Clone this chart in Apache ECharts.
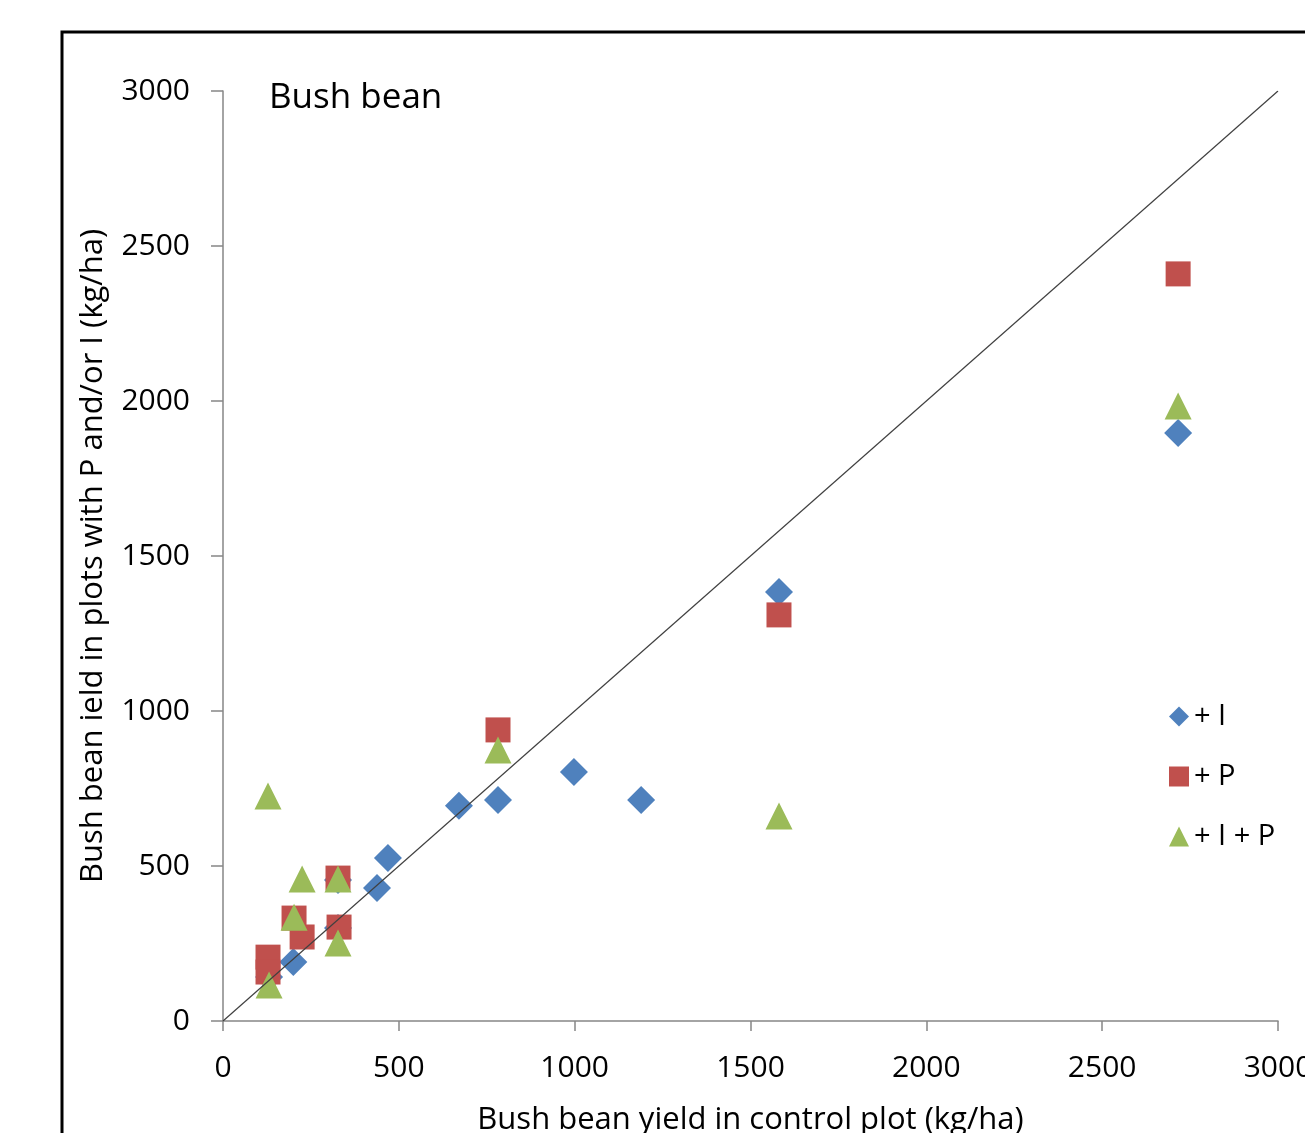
<!DOCTYPE html>
<html><head><meta charset="utf-8">
<script src="https://cdn.jsdelivr.net/npm/echarts@6/dist/echarts.min.js"></script>
<style>html,body{margin:0;padding:0;background:#fff}#c{width:1305px;height:1133px}</style>
</head><body><div id="c"></div>
<script>
// + I (blue diamonds): [control, treated]
var plusI = [[131,142],[200,190],[327,455],[327,300],[438,429],[469,526],[671,694],[782,713],[998,803],[1189,713],[1581,1384],[2716,1897]];
// + P (red squares)
var plusP = [[128,206],[128,158],[202,332],[225,271],[327,461],[330,303],[782,939],[1581,1310],[2716,2410]];
// + I + P (green triangles)
var plusIP = [[128,726],[131,116],[202,335],[225,458],[327,458],[327,252],[782,874],[1581,661],[2716,1984]];
// 1:1 line
var oneToOne = [[0,0],[3000,3000]];
var seriesNames = ['+ I','+ P','+ I + P'];

var FONT = '"Open Sans", "Noto Sans", sans-serif';
var chart = echarts.init(document.getElementById('c'));
chart.setOption({
  animation: false,
  backgroundColor: '#fff',
  grid: {left: 223, top: 91, right: 27, bottom: 112, containLabel: false, outerBoundsMode: 'none'},
  title: {text: 'Bush bean', left: 264, top: 76, textStyle: {fontFamily: FONT, fontSize: 35, fontWeight: 'normal', color: '#000'}},
  legend: {
    orient: 'vertical', left: 1164, top: 697, itemGap: 31, itemWidth: 20, itemHeight: 20,
    data: [{name: seriesNames[0], icon: 'diamond'}, {name: seriesNames[1], icon: 'rect'}, {name: seriesNames[2], icon: 'triangle'}],
    textStyle: {fontFamily: FONT, fontSize: 29, color: '#000', padding: [0,0,0,0]}
  },
  xAxis: {
    type: 'value', min: 0, max: 3000, interval: 500,
    name: 'Bush bean yield in control plot (kg/ha)', nameLocation: 'middle', nameGap: 84,
    nameTextStyle: {fontFamily: FONT, fontSize: 31, color: '#000'},
    axisLine: {show: true, lineStyle: {color: '#868686', width: 1.5}},
    axisTick: {show: true, length: 10, inside: false, lineStyle: {color: '#868686', width: 1.5}},
    axisLabel: {fontFamily: FONT, fontSize: 30, color: '#000', margin: 32, showMaxLabel: true, formatter: function (v) { return String(v); }},
    splitLine: {show: false}
  },
  yAxis: {
    type: 'value', min: 0, max: 3000, interval: 500,
    name: 'Bush bean ield in plots with P and/or I (kg/ha)', nameLocation: 'middle', nameGap: 114, nameRotate: 90,
    nameTextStyle: {fontFamily: FONT, fontSize: 31, color: '#000'},
    axisLine: {show: true, lineStyle: {color: '#868686', width: 1.5}},
    axisTick: {show: true, length: 12, inside: false, lineStyle: {color: '#868686', width: 1.5}},
    axisLabel: {fontFamily: FONT, fontSize: 30, color: '#000', margin: 33, formatter: function (v) { return String(v); }},
    splitLine: {show: false}
  },
  series: [
    {name: seriesNames[0], type: 'scatter', data: plusI, symbol: 'diamond', symbolSize: 28, itemStyle: {color: '#4F81BD', opacity: 1}, z: 2},
    {name: seriesNames[1], type: 'scatter', data: plusP, symbol: 'rect', symbolSize: 25, itemStyle: {color: '#C0504D', opacity: 1}, z: 3},
    {name: seriesNames[2], type: 'scatter', data: plusIP, symbol: 'triangle', symbolSize: 27, itemStyle: {color: '#9BBB59', opacity: 1}, z: 4},
    {name: '1:1', type: 'line', data: oneToOne, symbol: 'none', lineStyle: {color: '#404040', width: 1.2}, z: 5, silent: true}
  ],
  graphic: [{type: 'rect', shape: {x: 62, y: 32, width: 1400, height: 1300}, style: {fill: 'none', stroke: '#000', lineWidth: 3}, z: 100}]
});
</script></body></html>
